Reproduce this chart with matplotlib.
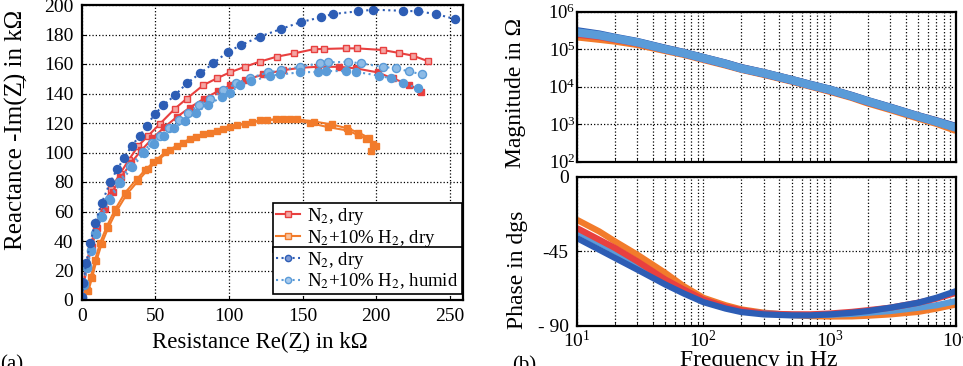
import matplotlib
matplotlib.use("Agg")
import matplotlib.pyplot as plt
from matplotlib.ticker import LogLocator, NullLocator, NullFormatter

plt.rcParams['font.family'] = ['Liberation Serif', 'DejaVu Serif']
plt.rcParams['mathtext.fontset'] = 'stix'

# ---- Nyquist data (kOhm) ----
red1_x = [0.1, 1.2, 3.2, 6.2, 9.8, 14.5, 20.0, 26.0, 32.0, 38.5, 45.3, 53.2, 63.3, 71.3, 82.5, 91.6,
          100.6, 110.8, 121.0, 132.7, 144.2, 157.5, 164.5, 179.2, 186.9, 204.5, 215.4, 224.8, 235.0]
red1_y = [1.5, 11.0, 24.0, 37.5, 50.5, 63.5, 75.5, 85.5, 95.0, 104.6, 111.5, 119.5, 129.7, 136.5, 145.6, 150.2,
          154.3, 158.1, 161.6, 165.0, 167.2, 170.0, 170.2, 170.6, 170.6, 169.5, 167.5, 165.7, 162.0]

red2_x = [0.2, 1.5, 3.6, 6.8, 10.5, 15.5, 21.0, 27.0, 33.5, 40.5, 48.0, 56.0, 64.5, 73.5, 83.0, 92.5,
          101.0, 110.8, 123.2, 136.7, 149.2, 160.4, 175.1, 186.4, 201.1, 211.2, 222.6, 230.5]
red2_y = [1.2, 10.5, 23.0, 36.0, 49.0, 62.0, 73.5, 83.5, 93.0, 101.5, 109.5, 117.0, 124.0, 130.5, 136.5, 141.5,
          145.5, 149.0, 152.9, 155.8, 157.5, 158.1, 158.1, 157.0, 154.3, 150.2, 146.1, 141.1]

orange1_x = [3.9, 6.2, 9.1, 12.5, 17.1, 22.7, 29.5, 37.4, 43.0, 48.7, 56.6, 64.5, 73.5, 82.5, 91.6, 100.6,
             110.8, 121.0, 132.2, 141.3, 154.8, 167.2, 180.8, 187.5, 193.2, 197.7, 196.6]
orange1_y = [6.8, 15.9, 27.3, 38.7, 50.0, 61.4, 72.8, 81.9, 88.0, 93.3, 100.1, 104.6, 109.2, 112.6, 114.9, 117.2,
             119.5, 121.7, 122.4, 122.4, 120.1, 117.2, 114.9, 111.9, 109.2, 105.8, 101.2]

orange2_x = [4.5, 7.0, 10.0, 13.5, 18.0, 23.5, 30.5, 38.5, 45.0, 52.0, 60.0, 68.5, 77.5, 87.0, 96.0, 105.5,
             115.5, 126.0, 136.5, 146.5, 158.0, 170.0, 180.0, 188.0, 195.0, 200.0]
orange2_y = [6.0, 15.0, 26.5, 38.0, 49.0, 60.0, 71.5, 81.0, 88.5, 95.0, 101.5, 106.5, 110.5, 113.5, 116.0, 118.5,
             120.5, 122.0, 122.8, 122.5, 121.0, 119.0, 116.5, 113.5, 110.0, 104.5]

dblue_x = [0.1, 1.2, 3.0, 5.8, 9.1, 13.7, 19.3, 24.0, 29.0, 34.0, 39.6, 44.2, 49.8, 55.4, 63.3, 71.3,
           80.3, 89.3, 99.5, 108.5, 121.0, 135.6, 148.7, 162.3, 170.6, 187.5, 197.7, 218.0, 228.2, 240.6, 253.5]
dblue_y = [2.3, 11.4, 25.0, 38.7, 52.3, 66.0, 79.7, 88.5, 96.5, 104.6, 111.5, 118.3, 126.3, 131.9, 138.8, 146.8,
           153.6, 160.4, 168.4, 172.9, 178.6, 183.8, 188.4, 191.6, 193.9, 195.7, 196.8, 196.1, 195.7, 193.9, 190.5]

lblue1_x = [0.1, 1.3, 3.3, 6.0, 9.0, 13.0, 18.5, 25.0, 33.0, 41.5, 47.5, 53.5, 59.5, 66.0, 72.5, 79.5,
            87.0, 96.1, 105.1, 114.2, 126.5, 135.6, 148.0, 161.6, 167.2, 180.8, 189.8, 204.5, 213.5, 222.5, 231.2]
lblue1_y = [2.3, 11.4, 22.8, 34.1, 45.5, 56.9, 68.3, 79.7, 91.0, 100.5, 106.5, 111.5, 116.5, 122.0, 127.0, 132.0,
            136.5, 142.2, 146.8, 150.5, 154.3, 155.8, 158.1, 160.4, 161.1, 161.5, 160.4, 158.1, 157.0, 155.0, 152.9]

lblue2_x = [0.2, 1.5, 3.6, 6.5, 9.6, 13.8, 19.5, 26.0, 34.0, 42.5, 49.0, 56.0, 63.0, 70.0, 77.5, 86.0,
            95.0, 100.5, 107.4, 115.3, 127.7, 134.5, 148.0, 160.4, 166.1, 179.7, 186.4, 202.2, 210.2, 218.0, 228.2]
lblue2_y = [1.5, 10.5, 22.0, 33.5, 45.0, 56.5, 68.0, 79.0, 90.0, 99.5, 105.5, 111.0, 116.5, 121.5, 127.0, 132.5,
            137.5, 140.5, 145.6, 148.3, 152.0, 152.9, 154.3, 154.7, 155.2, 155.2, 154.7, 152.0, 150.2, 146.8, 143.8]

# ---- Bode data ----
freq = [10, 15, 20, 30, 50, 70, 100, 150, 200, 300, 500, 700, 1000, 1500, 2000, 3000, 5000, 7000, 10000]

mag_red = [2.6e5, 2.25e5, 1.9e5, 1.5e5, 1.0e5, 7.8e4, 5.7e4, 4.05e4, 3.07e4, 2.27e4, 1.49e4, 1.1e4, 8.1e3,
           5.5e3, 4.0e3, 2.7e3, 1.6e3, 1.17e3, 8.2e2]
mag_orange = [2.2e5, 1.9e5, 1.7e5, 1.38e5, 9.5e4, 7.5e4, 5.5e4, 3.9e4, 3.0e4, 2.2e4, 1.45e4, 1.07e4, 7.8e3,
              5.3e3, 3.8e3, 2.55e3, 1.5e3, 1.08e3, 7.0e2]
mag_dblue = [3.0e5, 2.45e5, 2.0e5, 1.55e5, 1.02e5, 7.9e4, 5.8e4, 4.1e4, 3.1e4, 2.3e4, 1.5e4, 1.12e4, 8.3e3,
             5.6e3, 4.1e3, 2.75e3, 1.62e3, 1.18e3, 8.3e2]
mag_lblue = [2.8e5, 2.35e5, 1.95e5, 1.52e5, 1.0e5, 7.8e4, 5.75e4, 4.05e4, 3.05e4, 2.28e4, 1.5e4, 1.1e4, 8.2e3,
             5.5e3, 4.05e3, 2.7e3, 1.6e3, 1.15e3, 8.0e2]
mag_ticks = [1e2, 1e3, 1e4, 1e5, 1e6]

ph_red = [-31, -38, -43, -51, -62, -68, -74, -78.5, -80.5, -82.5, -83, -83, -82.5, -81.5, -80.5, -79, -76, -73.5, -70]
ph_orange = [-26, -33, -39, -47, -58, -66, -73, -77.5, -80, -82, -83.4, -84, -84.3, -84.2, -83.8, -83, -81.5, -79.5, -77]
ph_dblue = [-37, -44, -49, -56, -65, -70.4, -75.6, -79.5, -81.6, -83, -83.6, -83.6, -83, -82, -81, -79, -76, -73, -69]
ph_lblue = [-33, -40, -45, -53, -63, -69, -75, -79, -81, -82.4, -83.2, -83.4, -83.2, -82.7, -82, -81, -79, -77.5, -75]
ph_ticks = [-90, -45, 0]
ph_ticklabels = ['- 90', '-45', '0']

c_red = '#e8403f'
c_orange = '#f27b2b'
c_dblue = '#2d5db5'
c_lblue = '#5a9bd8'

W, H = 963, 366
fig = plt.figure(figsize=(W / 100, H / 100), dpi=100)

ax1 = fig.add_axes([81.7 / W, 1 - 300 / H, 381.3 / W, 295 / H])
ax2 = fig.add_axes([577 / W, 1 - 161.5 / H, 379 / W, 149.8 / H])
ax3 = fig.add_axes([577 / W, 1 - 326 / H, 379 / W, 149.3 / H], sharex=ax2)

# ---- (a) Nyquist ----
ax1.plot(orange2_x, orange2_y, '-s', color=c_orange, ms=4.8, lw=1.5)
ax1.plot(orange1_x, orange1_y, '-s', color=c_orange, ms=4.8, lw=1.5)
ax1.plot(red1_x, red1_y, '-s', color=c_red, ms=4.8, lw=1.5, mfc='#f4a6a4')
ax1.plot(red2_x, red2_y, '-s', color=c_red, ms=4.8, lw=1.5)
ax1.plot(lblue1_x, lblue1_y, ':o', color=c_lblue, ms=5.8, lw=1.5, mfc='#8dbbe6')
ax1.plot(lblue2_x, lblue2_y, ':o', color=c_lblue, ms=5.8, lw=1.5)
ax1.plot(dblue_x, dblue_y, ':o', color=c_dblue, ms=5.8, lw=1.5)

ax1.set_xlim(0, 259)
ax1.set_ylim(0, 200)
ax1.set_xticks([0, 50, 100, 150, 200, 250])
ax1.set_yticks(range(0, 201, 20))
ax1.grid(True, color='black', linestyle=':', lw=0.9)
ax1.tick_params(labelsize=14, direction='in', length=3, pad=6)
ax1.set_xlabel('Resistance Re(Z\u0332) in kΩ', fontsize=16.5)
ax1.set_ylabel('Reactance -Im(Z\u0332) in kΩ', fontsize=18)
ax1.xaxis.set_label_coords(0.468, -0.108)
ax1.yaxis.set_label_coords(-0.14, 0.576)

h1 = ax1.plot([], [], '-s', color=c_red, ms=4.5, lw=1.5, mfc='#f4a6a4')[0]
h2 = ax1.plot([], [], '-s', color=c_orange, ms=4.5, lw=1.5, mfc='#f9c39d')[0]
h3 = ax1.plot([], [], ':o', color=c_dblue, ms=4.5, lw=1.5, mfc='#7f9bd6')[0]
h4 = ax1.plot([], [], ':o', color=c_lblue, ms=4.5, lw=1.5, mfc='#a9cbee')[0]

leg_kw = dict(loc='upper left', mode='expand', fontsize=13.5, frameon=True, fancybox=False,
              framealpha=1, edgecolor='black', borderpad=0.15, labelspacing=0.05,
              handlelength=1.3, handletextpad=0.35, borderaxespad=0)
leg1 = ax1.legend([h1, h2], ['N$_2$, dry', 'N$_2$+10% H$_2$, dry'],
                  bbox_to_anchor=(0.502, 0.0, 0.495, 0.329), **leg_kw)
leg1.get_frame().set_linewidth(1.2)
ax1.add_artist(leg1)
leg2 = ax1.legend([h3, h4], ['N$_2$, dry', 'N$_2$+10% H$_2$, humid'],
                  bbox_to_anchor=(0.502, 0.0, 0.495, 0.180), **leg_kw)
leg2.get_frame().set_linewidth(1.2)

# ---- (b) Bode ----
for m, c in [(mag_orange, c_orange), (mag_red, c_red), (mag_dblue, c_dblue), (mag_lblue, c_lblue)]:
    ax2.plot(freq, m, '-', color=c, lw=6, solid_capstyle='butt')
for p, c in [(ph_orange, c_orange), (ph_lblue, c_lblue), (ph_red, c_red), (ph_dblue, c_dblue)]:
    ax3.plot(freq, p, '-', color=c, lw=4.5, solid_capstyle='butt')

ax2.set_xscale('log')
ax2.set_yscale('log')
ax2.set_xlim(10, 1e4)
ax2.set_ylim(1e2, 1e6)
ax2.set_yticks(mag_ticks)
ax2.yaxis.set_minor_locator(NullLocator())
ax2.xaxis.set_minor_locator(LogLocator(base=10, subs=range(2, 10)))
ax2.xaxis.set_minor_formatter(NullFormatter())
ax2.tick_params(axis='x', which='both', labelbottom=False)
ax2.tick_params(axis='y', labelsize=13.5, direction='in', length=3, pad=1)
ax2.tick_params(axis='x', which='both', direction='in', length=3)
ax2.grid(True, which='major', color='black', linestyle=':', lw=0.9)
ax2.grid(True, which='minor', axis='x', color='black', linestyle=':', lw=0.9)
ax2.set_ylabel('Magnitude in Ω', fontsize=17)
ax2.yaxis.set_label_coords(-0.135, 0.46)

ax3.set_ylim(-90, 0)
ax3.set_yticks(ph_ticks)
ax3.set_yticklabels(ph_ticklabels)
ax3.tick_params(axis='both', which='both', labelsize=14, direction='in', length=3)
ax3.tick_params(axis='y', pad=6)
ax3.tick_params(axis='x', pad=3)
ax3.grid(True, which='major', color='black', linestyle=':', lw=0.9)
ax3.grid(True, which='minor', axis='x', color='black', linestyle=':', lw=0.9)
ax3.set_xlabel('Frequency in Hz', fontsize=17)
ax3.set_ylabel('Phase in dgs', fontsize=17)
ax3.xaxis.set_label_coords(0.479, -0.16)
ax3.yaxis.set_label_coords(-0.129, 0.378)

for ax in (ax1, ax2, ax3):
    for s in ax.spines.values():
        s.set_linewidth(1.6)

fig.text(0.0, 1 - 355 / H, '(a)', fontsize=15, va='top', ha='left')
fig.text(512 / W, 1 - 356 / H, '(b)', fontsize=15, va='top', ha='left')

fig.savefig('out.png', dpi=100)
